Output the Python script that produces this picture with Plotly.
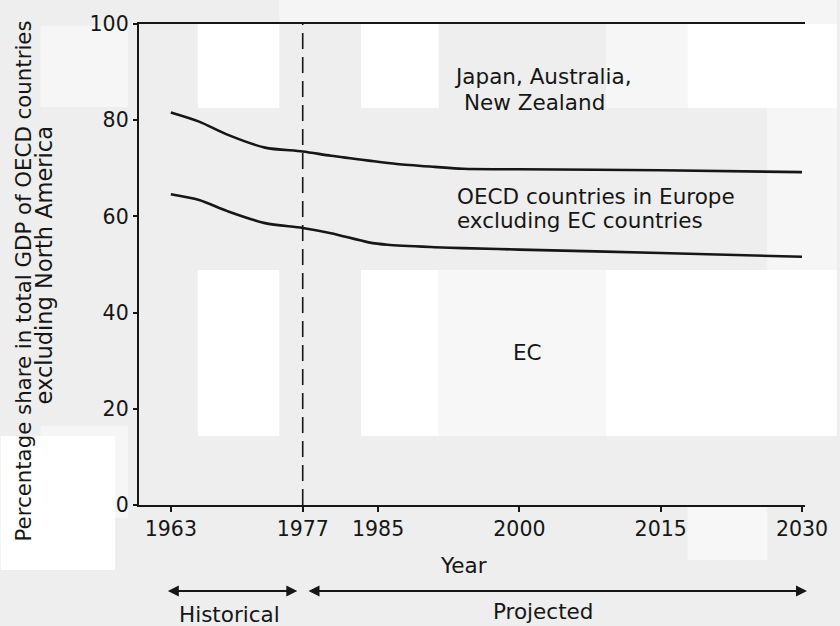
import plotly.graph_objects as go

# ---- data ----
years_upper = [1963, 1966, 1969, 1973, 1977, 1980, 1984, 1987, 1991, 1994, 2000, 2015, 2030]
share_upper = [81.6, 79.7, 77.0, 74.3, 73.5, 72.6, 71.6, 70.9, 70.3, 69.9, 69.8, 69.6, 69.2]

years_lower = [1963, 1966, 1969, 1973, 1977, 1980, 1984, 1986, 1991, 1994, 2000, 2015, 2030]
share_lower = [64.6, 63.4, 61.1, 58.6, 57.6, 56.5, 54.6, 54.1, 53.6, 53.4, 53.1, 52.4, 51.6]

x_ticks = [1963, 1977, 1985, 2000, 2015, 2030]
y_ticks = [0, 20, 40, 60, 80, 100]
split_year = 1977

# ---- layout geometry (pixels) ----
W, H = 840, 626
ML, MR, MT, MB = 139, 32, 24, 121
PW, PH = W - ML - MR, H - MT - MB
X_RANGE = [1959.62, 2030.32]
Y_RANGE = [0, 100]

def px(xp, yp):
    """pixel -> paper coords"""
    return (xp - ML) / PW, (H - MB - yp) / PH

FONT = "DejaVu Sans, Verdana, sans-serif"
INK = "#161616"

fig = go.Figure()
fig.add_trace(go.Scatter(x=years_upper, y=share_upper, mode="lines",
                         line=dict(color=INK, width=2.6, shape="spline", smoothing=0.8),
                         hoverinfo="skip", showlegend=False))
fig.add_trace(go.Scatter(x=years_lower, y=share_lower, mode="lines",
                         line=dict(color=INK, width=2.6, shape="spline", smoothing=0.8),
                         hoverinfo="skip", showlegend=False))

shapes = []
# scanned-paper background patches (decorative)
patches = [
    (280, 0, 840, 24, "#f5f5f5"),
    (198, 24, 280, 108, "#ffffff"),
    (362, 24, 440, 108, "#ffffff"),
    (608, 24, 690, 108, "#f6f6f6"),
    (690, 24, 840, 108, "#ffffff"),
    (40, 26, 128, 107, "#f6f6f6"),
    (770, 108, 840, 270, "#f6f6f6"),
    (198, 270, 280, 436, "#ffffff"),
    (362, 270, 440, 436, "#ffffff"),
    (440, 270, 608, 436, "#f7f7f7"),
    (608, 270, 840, 436, "#ffffff"),
    (40, 426, 128, 518, "#f6f6f6"),
    (0, 436, 115, 570, "#ffffff"),
    (690, 505, 770, 560, "#f7f7f7"),
]
for x0p, y0p, x1p, y1p, col in patches:
    a0, b1 = px(x0p, y0p)
    a1, b0 = px(x1p, y1p)
    shapes.append(dict(type="rect", xref="paper", yref="paper", x0=a0, x1=a1, y0=b0, y1=b1,
                       fillcolor=col, line=dict(width=0), layer="below"))

# dashed divider between historical and projected
shapes.append(dict(type="line", xref="x", yref="y", x0=split_year, x1=split_year,
                   y0=Y_RANGE[0], y1=Y_RANGE[1],
                   line=dict(color=INK, width=1.6, dash="16px,8px")))

ann = []
def label(text, xp, yp, size=21.5, xanchor="center", angle=0):
    a, b = px(xp, yp)
    ann.append(dict(text=text, xref="paper", yref="paper", x=a, y=b, xanchor=xanchor,
                    yanchor="middle", showarrow=False, textangle=angle,
                    font=dict(family=FONT, size=size, color=INK)))

label("Japan, Australia,", 545, 77)
label("New Zealand", 536, 102)
label("OECD countries in Europe", 456, 197, xanchor="left")
label("excluding EC countries", 456, 221, xanchor="left")
label("EC", 529, 352)
label("Year", 465, 565)
label("Historical", 230, 614)
label("Projected", 545, 611)
label("Percentage share in total GDP of OECD countries", 22, 281, size=21.3, angle=-90)
label("excluding North America", 44, 265, size=22.5, angle=-90)

# period arrows (double-headed)
for xp0, xp1 in [(167, 298), (310, 810)]:
    a1, b = px(xp1, 591)
    ann.append(dict(x=a1, y=b, xref="paper", yref="paper",
                    ax=(xp0 - xp1), ay=0, axref="pixel", ayref="pixel",
                    text="", showarrow=True, arrowhead=2, arrowside="end+start",
                    arrowsize=1.1, arrowwidth=2, arrowcolor=INK, standoff=0, startstandoff=0))

fig.update_layout(
    width=W, height=H,
    margin=dict(l=ML, r=MR, t=MT, b=MB, pad=0),
    paper_bgcolor="#eeeeee", plot_bgcolor="rgba(0,0,0,0)",
    shapes=shapes, annotations=ann,
    showlegend=False,
    font=dict(family=FONT, size=20.5, color=INK),
)
fig.update_xaxes(range=X_RANGE, tickvals=x_ticks, ticktext=[str(v) for v in x_ticks],
                 showgrid=False, zeroline=False, showline=True, linecolor=INK, linewidth=1.6,
                 mirror=True, ticks="outside", ticklen=5, tickwidth=1.6, tickcolor=INK,
                 tickfont=dict(family=FONT, size=20.5, color=INK))
fig.update_yaxes(range=Y_RANGE, tickvals=y_ticks, showgrid=False, zeroline=False,
                 showline=True, linecolor=INK, linewidth=2.4, mirror=False,
                 ticks="outside", ticklen=4, tickwidth=1.6, tickcolor=INK,
                 tickfont=dict(family=FONT, size=20.5, color=INK))

fig.write_html("out.html", config={"displayModeBar": False},
               post_script="document.body.style.margin='0px';document.body.style.overflow='hidden';")
